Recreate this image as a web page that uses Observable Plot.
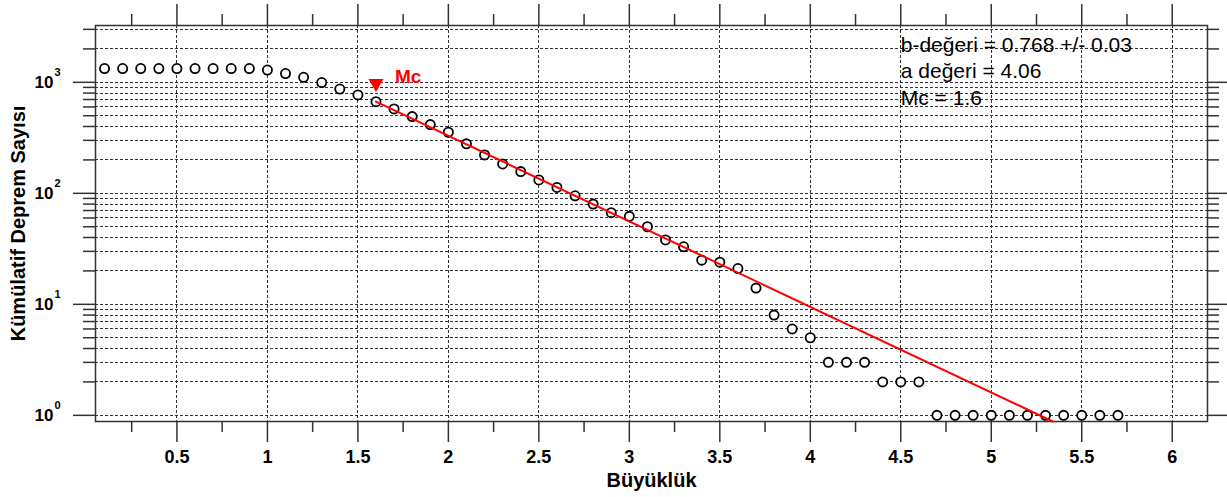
<!DOCTYPE html>
<html>
<head>
<meta charset="utf-8">
<script src="https://cdn.jsdelivr.net/npm/d3@7"></script>
<script src="https://cdn.jsdelivr.net/npm/@observablehq/plot@0.6"></script>
<style>
  html, body { margin: 0; padding: 0; background: #fff; }
  #chart svg { display: block; }
</style>
</head>
<body>
<div id="chart"></div>
<script>
// Magnitudes (Büyüklük) and cumulative event counts
const mags = [0.1,0.2,0.3,0.4,0.5,0.6,0.7,0.8,0.9,1.0,
              1.1,1.2,1.3,1.4,1.5,1.6,1.7,1.8,1.9,2.0,
              2.1,2.2,2.3,2.4,2.5,2.6,2.7,2.8,2.9,3.0,
              3.1,3.2,3.3,3.4,3.5,3.6,3.7,3.8,3.9,4.0,
              4.1,4.2,4.3,4.4,4.5,4.6,4.7,4.8,4.9,5.0,
              5.1,5.2,5.3,5.4,5.5,5.6,5.7];
const counts = [1330,1330,1330,1330,1330,1330,1330,1330,1330,1290,
                1200,1110,995,870,770,670,576,491,416,355,
                279,222,184,157,132,113,95,80,67,62,
                50,38,33,25,24,21,14,8,6,5,
                3,3,3,2,2,2,1,1,1,1,
                1,1,1,1,1,1,1];

// Fitted Gutenberg-Richter line
const fitM = [1.6, 5.34];
const fitN = [670, 0.88];

// Mc marker
const mcM = 1.6;
const mcMarkerN = 980;

// Annotation text
const annotLines = ["b-değeri = 0.768 +/- 0.03", "a değeri = 4.06", "Mc = 1.6"];

// Ticks
const xMajor = [0.5,1,1.5,2,2.5,3,3.5,4,4.5,5,5.5,6];
const xMinor = [0.25,0.75,1.25,1.75,2.25,2.75,3.25,3.75,4.25,4.75,5.25,5.75];
const yMajor = [1,10,100,1000];
const yExp = ["0","1","2","3"];
const yMinor = [2,3,4,5,6,7,8,9,20,30,40,50,60,70,80,90,200,300,400,500,600,700,800,900,2000,3000];
const yGrid = yMajor.concat(yMinor);

const xLabel = "Büyüklük";
const yLabel = "Kümülatif Deprem Sayısı";

const axisColor = "#333";
const gridStyle = {stroke: "#333", strokeOpacity: 1, strokeDasharray: "3,2", strokeWidth: 1, shapeRendering: "crispEdges"};

const chart = Plot.plot({
  width: 1227,
  height: 497,
  marginLeft: 95,
  marginRight: 20,
  marginTop: 25,
  marginBottom: 76,
  x: {domain: [0.05, 6.195]},
  y: {type: "log", domain: [0.88, 3250]},
  style: {fontFamily: "'Liberation Sans', Arial, sans-serif", background: "#fff", color: "#000"},
  marks: [
    Plot.gridY({ticks: yGrid, ...gridStyle}),
    Plot.gridX({ticks: xMajor, ...gridStyle}),
    Plot.frame({stroke: axisColor, strokeWidth: 1.5}),
    // bottom axis
    Plot.axisX({ticks: xMajor, anchor: "bottom", tickSize: 21, tickPadding: 8, stroke: axisColor, strokeWidth: 1.5,
                fontSize: 18, fontWeight: "bold", tickFormat: d => String(d), label: null}),
    Plot.axisX({ticks: xMinor, anchor: "bottom", tickSize: 11, stroke: axisColor, strokeWidth: 1.5, tickFormat: () => "", label: null}),
    // top axis
    Plot.axisX({ticks: xMajor, anchor: "top", tickSize: 22, stroke: axisColor, strokeWidth: 1.5, tickFormat: () => "", label: null}),
    Plot.axisX({ticks: xMinor, anchor: "top", tickSize: 12, stroke: axisColor, strokeWidth: 1.5, tickFormat: () => "", label: null}),
    // left axis
    Plot.axisY({ticks: yMajor, anchor: "left", tickSize: 22, stroke: axisColor, strokeWidth: 1.5, tickFormat: () => "", label: null}),
    Plot.axisY({ticks: yMinor, anchor: "left", tickSize: 12, stroke: axisColor, strokeWidth: 1.5, tickFormat: () => "", label: null}),
    // right axis
    Plot.axisY({ticks: yMajor, anchor: "right", tickSize: 20, stroke: axisColor, strokeWidth: 1.5, tickFormat: () => "", label: null}),
    Plot.axisY({ticks: yMinor, anchor: "right", tickSize: 11, stroke: axisColor, strokeWidth: 1.5, tickFormat: () => "", label: null}),
    // y tick labels 10^k
    Plot.text(yMajor, {y: d => d, frameAnchor: "left", text: () => "10", textAnchor: "end", lineAnchor: "middle", dx: -42,
                       fontSize: 17, fontWeight: "bold", fill: "#000"}),
    Plot.text(yMajor, {y: d => d, frameAnchor: "left", text: (d, i) => yExp[i], textAnchor: "start", lineAnchor: "middle", dx: -41, dy: -10,
                       fontSize: 11, fontWeight: "bold", fill: "#000"}),
    // axis titles
    Plot.text([xLabel], {frameAnchor: "bottom", text: d => d, textAnchor: "middle", lineAnchor: "middle", dy: 59,
                         fontSize: 20, fontWeight: "bold", fill: "#000"}),
    Plot.text([yLabel], {frameAnchor: "left", text: d => d, textAnchor: "middle", lineAnchor: "middle", dx: -77, rotate: -90,
                         fontSize: 20, fontWeight: "bold", fill: "#000"}),
    // data points
    Plot.dot(mags, {x: d => d, y: (d, i) => counts[i], r: 4.6, stroke: "#000", strokeWidth: 1.8, fill: "#fff"}),
    // fit line
    Plot.line(fitM, {x: d => d, y: (d, i) => fitN[i], stroke: "#ff0000", strokeWidth: 2}),
    // Mc marker
    Plot.dot([mcM], {x: d => d, y: () => mcMarkerN, symbol: "triangle", rotate: 180, r: 5.6, fill: "#ff0000", stroke: null}),
    Plot.text([mcM], {x: d => d, y: () => mcMarkerN, text: () => "Mc", fill: "#ff0000", fontWeight: "bold", fontSize: 19,
                      textAnchor: "start", lineAnchor: "middle", dx: 19, dy: -6}),
    // annotation
    Plot.text([annotLines.join("\n")], {x: () => 4.5, frameAnchor: "top", text: d => d, textAnchor: "start",
                      lineAnchor: "top", lineHeight: 1.25, dy: 8, fontSize: 21, fill: "#000"})
  ]
});
document.getElementById("chart").appendChild(chart);
</script>
</body>
</html>
